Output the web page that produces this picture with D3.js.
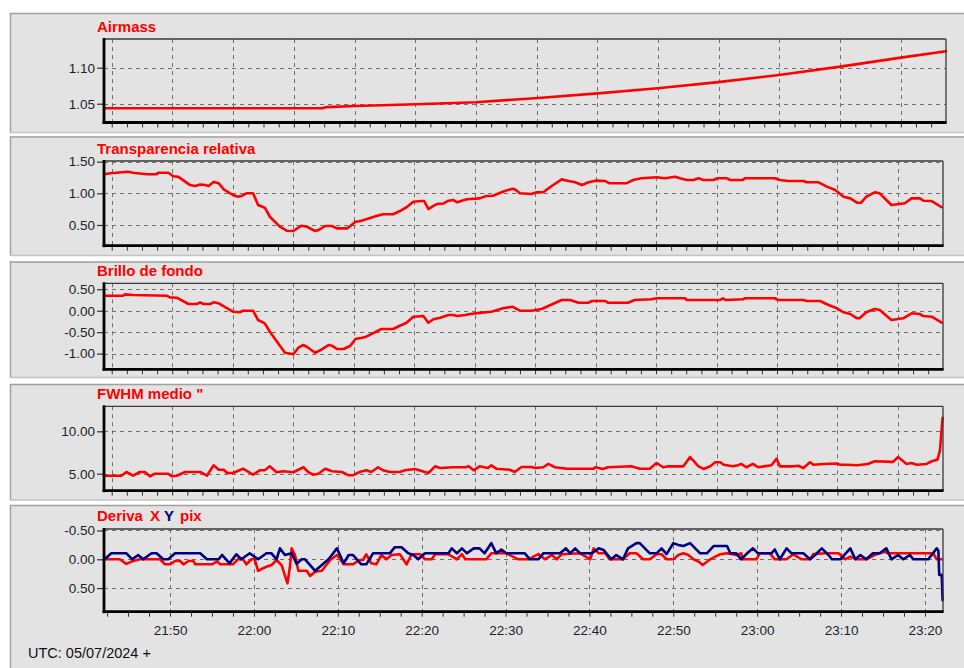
<!DOCTYPE html>
<html>
<head>
<meta charset="utf-8">
<script src="https://cdn.jsdelivr.net/npm/d3@7"></script>
<style>
  html, body { margin: 0; padding: 0; background: #ffffff; }
  svg { display: block; font-family: "Liberation Sans", Arial, sans-serif; }
</style>
</head>
<body>
<svg id="chart" width="964" height="668"></svg>
<script>
// Time is expressed in minutes after 21:00 UTC.
const timeStart = 42.13;
const timeEnd = 142.15;

// Airmass
const airmass = [[42.13,1.0436],[68.0,1.0436],[68.5,1.0452],[72.0,1.0468],[79.2,1.0492],[86.3,1.052],
  [93.7,1.058],[100.8,1.0644],[107.9,1.0714],[115.1,1.080],[122.3,1.0899],[129.6,1.1015],
  [136.8,1.114],[142.15,1.123]];

// Transparencia relativa
const transparencia = [[42.13,1.30],[42.9,1.316],[45.0,1.34],[45.6,1.325],[47.2,1.30],[48.4,1.30],
  [48.6,1.325],[49.8,1.325],[50.4,1.27],[51.0,1.26],[52.4,1.13],[53.0,1.115],[53.6,1.14],[54.2,1.13],
  [54.6,1.115],[55.2,1.18],[55.8,1.16],[56.4,1.063],[57.5,0.973],[58.1,0.946],[58.5,0.957],[59.1,1.00],
  [59.9,1.00],[60.5,0.815],[61.3,0.773],[61.9,0.63],[63.1,0.473],[63.9,0.41],[64.7,0.405],[65.3,0.457],
  [65.7,0.488],[66.3,0.473],[67.3,0.405],[67.7,0.42],[68.5,0.484],[69.3,0.484],[69.9,0.447],[71.1,0.447],
  [71.5,0.484],[72.1,0.55],[72.6,0.56],[73.4,0.59],[74.6,0.64],[75.4,0.67],[76.6,0.67],[77.4,0.72],
  [78.2,0.78],[79.0,0.867],[80.0,0.878],[80.3,0.878],[80.8,0.752],[81.4,0.80],[81.8,0.83],[82.6,0.84],
  [83.2,0.883],[83.8,0.894],[84.2,0.858],[84.8,0.883],[85.4,0.905],[86.9,0.92],[87.7,0.957],[88.5,0.962],
  [89.9,1.036],[90.8,1.07],[91.1,1.063],[91.7,1.00],[93.1,0.99],[93.7,1.016],[94.5,1.016],[95.5,1.115],
  [96.7,1.22],[97.5,1.194],[98.3,1.174],[99.1,1.13],[99.9,1.174],[100.7,1.20],[101.9,1.194],[102.4,1.158],
  [104.4,1.158],[105.2,1.21],[106.2,1.237],[108.0,1.253],[109.0,1.237],[110.2,1.262],[110.8,1.237],
  [111.6,1.21],[112.4,1.21],[113.0,1.237],[113.6,1.21],[114.8,1.21],[115.2,1.237],[116.4,1.237],
  [116.8,1.21],[118.3,1.21],[118.5,1.237],[122.1,1.237],[122.7,1.21],[123.7,1.194],[125.5,1.194],
  [125.9,1.174],[127.3,1.174],[128.3,1.105],[129.3,1.052],[130.3,0.946],[131.1,0.92],[131.9,0.852],
  [132.4,0.852],[133.0,0.946],[134.0,1.016],[134.6,1.00],[136.0,0.815],[137.6,0.842],[138.4,0.92],
  [139.4,0.92],[139.8,0.883],[140.8,0.878],[142.0,0.78]];

// Brillo de fondo
const brillo = [[42.13,0.35],[44.4,0.35],[44.6,0.38],[45.6,0.366],[49.6,0.35],[50.0,0.31],[50.8,0.303],
  [52.2,0.156],[53.2,0.156],[53.6,0.195],[54.0,0.156],[54.8,0.156],[55.2,0.195],[55.8,0.172],[57.5,-0.023],
  [58.3,-0.037],[58.7,0],[59.9,0],[60.5,-0.217],[61.3,-0.294],[61.9,-0.49],[63.7,-0.98],[64.7,-1.016],
  [65.3,-0.862],[65.9,-0.80],[66.3,-0.84],[67.3,-0.98],[68.1,-0.90],[68.9,-0.80],[69.3,-0.816],[69.9,-0.893],
  [70.7,-0.893],[71.5,-0.816],[72.1,-0.66],[72.9,-0.63],[73.4,-0.606],[75.2,-0.427],[76.6,-0.427],
  [77.4,-0.35],[78.2,-0.28],[79.0,-0.14],[80.2,-0.124],[80.8,-0.28],[81.4,-0.20],[82.2,-0.163],[83.2,-0.10],
  [83.8,-0.10],[84.2,-0.124],[85.2,-0.10],[85.8,-0.077],[86.9,-0.05],[88.3,-0.023],[89.7,0.056],[90.8,0.093],
  [91.7,0],[93.1,0],[94.3,0.04],[96.7,0.25],[97.7,0.25],[98.7,0.187],[99.9,0.187],[100.3,0.226],[101.9,0.226],
  [102.2,0.187],[104.6,0.187],[105.4,0.25],[107.4,0.266],[108.0,0.29],[111.4,0.29],[111.6,0.25],[115.6,0.25],
  [115.9,0.29],[116.2,0.25],[118.3,0.266],[118.5,0.29],[122.1,0.29],[122.5,0.25],[125.5,0.25],[125.9,0.226],
  [127.5,0.226],[128.5,0.133],[129.5,0.056],[130.3,-0.037],[131.1,-0.077],[131.9,-0.177],[132.2,-0.177],
  [133.0,-0.037],[134.0,0.04],[134.6,0.016],[136.0,-0.217],[137.4,-0.177],[138.4,-0.06],[139.4,-0.077],
  [139.8,-0.124],[140.8,-0.14],[142.0,-0.28]];

// FWHM medio (arcsec)
const fwhm = [[42.13,4.76],[44.2,4.76],[44.8,5.2],[45.6,4.76],[46.4,5.2],[47.0,5.2],[47.6,4.69],[48.2,5.0],
  [49.8,5.0],[50.2,4.69],[50.8,4.76],[51.8,5.2],[53.6,5.2],[54.4,4.76],[55.2,5.99],[55.8,5.47],[56.4,5.47],
  [56.8,5.08],[57.5,5.08],[58.7,5.59],[59.9,4.88],[60.7,5.4],[61.3,5.4],[61.9,5.87],[62.7,5.17],[63.5,5.28],
  [64.7,5.17],[65.9,5.76],[66.5,5.17],[67.1,4.88],[67.7,5.0],[68.5,5.59],[69.3,5.28],[70.5,5.2],[71.3,4.81],
  [71.8,4.81],[72.6,5.2],[73.4,5.4],[74.0,5.2],[74.8,5.76],[75.4,5.4],[76.2,5.2],[77.4,5.2],[78.0,5.4],
  [79.2,5.56],[80.8,5.08],[81.6,5.87],[82.2,5.67],[83.8,5.76],[85.2,5.76],[85.6,5.87],[86.2,5.4],[86.9,5.87],
  [87.9,5.67],[88.3,5.99],[88.9,5.59],[90.5,5.47],[91.1,5.2],[91.9,5.79],[93.1,5.79],[93.5,5.67],[94.5,5.76],
  [95.1,6.15],[95.9,5.76],[97.3,5.59],[100.5,5.59],[100.7,5.76],[101.6,5.56],[102.2,5.76],[105.0,5.87],
  [106.0,5.59],[107.2,5.59],[108.0,6.26],[108.8,5.76],[109.4,5.87],[111.2,5.87],[112.0,6.97],[113.0,5.87],
  [113.6,5.56],[114.4,5.87],[115.0,6.35],[115.6,6.35],[116.0,6.06],[117.1,5.87],[117.7,5.99],[118.1,6.15],
  [118.7,5.76],[119.5,6.15],[120.1,5.76],[121.7,5.99],[122.3,6.77],[122.7,5.87],[124.3,5.87],[124.9,5.94],
  [125.5,5.67],[126.3,6.35],[126.7,6.06],[127.9,6.15],[129.5,6.2],[129.9,6.06],[130.7,6.06],[131.9,5.99],
  [133.2,6.15],[134.0,6.47],[136.2,6.4],[136.8,6.97],[137.8,6.15],[138.4,6.26],[139.0,6.06],[140.2,6.15],
  [140.8,6.47],[141.5,6.66],[141.8,7.84],[142.0,10.4],[142.1,11.58]];

// Deriva X (pix)
const derivaX = [[42.2,0],[44.0,0],[44.8,0.08],[45.4,0.04],[46.4,0],[48.8,0],[49.4,0.087],[50.0,0.087],
  [50.6,0.03],[51.2,0.03],[51.6,0.087],[52.2,0.03],[52.8,0.03],[53.0,0.087],[55.0,0.087],[55.6,0.04],
  [56.0,0.087],[57.5,0.087],[58.1,0],[58.7,0],[59.1,0.087],[59.7,0],[60.1,0],[60.5,0.2],[61.1,0.156],
  [61.5,0.13],[62.1,0.1],[62.7,0.012],[63.3,0.1],[64.0,0.417],[64.3,0.128],[64.5,-0.19],[64.9,-0.075],
  [65.3,0.2],[66.3,0.2],[66.7,0.29],[67.3,0.215],[68.1,0.2],[69.1,0.012],[69.9,-0.075],[70.7,0.087],
  [71.8,0.087],[72.6,0.012],[73.0,0.012],[73.4,-0.087],[74.0,0.07],[74.6,0.087],[75.2,-0.075],[75.8,0],
  [76.4,-0.075],[77.4,-0.087],[78.2,0.087],[78.8,-0.087],[79.8,-0.087],[80.4,0],[81.2,0],[81.6,-0.087],
  [83.2,-0.087],[84.2,0],[84.8,-0.09],[85.2,0],[87.7,0],[88.3,-0.104],[90.1,-0.104],[91.5,0],[92.7,0],
  [93.9,-0.09],[94.7,0],[95.5,-0.075],[96.1,0],[96.7,-0.087],[98.9,-0.104],[100.1,0],[100.5,-0.19],
  [101.1,-0.104],[101.9,-0.104],[102.4,0],[104.0,0],[104.8,-0.104],[105.6,-0.104],[106.4,0],[107.2,0],
  [108.0,-0.087],[108.6,-0.087],[109.2,0],[110.0,0],[110.6,-0.075],[111.2,-0.104],[111.8,-0.075],[112.4,0],
  [113.0,0.04],[113.5,0.1],[114.4,0],[115.0,-0.045],[115.6,-0.087],[116.4,-0.104],[117.5,-0.075],
  [118.1,-0.104],[118.3,0],[119.9,0],[120.3,-0.104],[121.5,-0.104],[122.1,0],[123.5,0],[124.3,-0.087],
  [125.3,0],[126.3,0],[126.7,-0.09],[128.1,-0.104],[129.7,-0.104],[130.5,0],[131.1,-0.045],[131.9,0],
  [133.0,0],[134.0,-0.075],[134.6,-0.104],[135.2,-0.13],[135.6,-0.104],[141.0,-0.104],[141.4,0],[142.0,0]];

// Deriva Y (pix)
const derivaY = [[42.2,0],[43.0,-0.104],[44.8,-0.104],[45.5,0],[46.2,-0.075],[46.8,0],[47.8,-0.104],
  [48.4,-0.104],[49.2,0],[49.8,0],[50.6,-0.104],[53.6,-0.104],[54.4,0],[55.8,0],[56.2,-0.075],[57.1,0.07],
  [57.9,-0.087],[58.5,0],[59.5,-0.104],[60.5,0],[61.5,-0.104],[62.1,-0.104],[62.7,0],[63.1,-0.19],
  [63.7,-0.075],[64.5,-0.104],[65.1,0.08],[65.7,0],[66.1,0],[66.7,0.1],[67.3,0.2],[68.9,0],[69.9,-0.19],
  [70.7,0.07],[71.3,-0.075],[71.8,-0.075],[72.8,0.087],[73.4,0.087],[74.2,-0.104],[76.2,-0.104],
  [76.8,-0.21],[77.6,-0.21],[78.4,-0.104],[79.0,-0.075],[79.6,0],[80.4,-0.104],[83.2,-0.104],[83.6,-0.19],
  [84.2,-0.104],[84.8,-0.19],[85.4,-0.104],[86.2,-0.19],[86.9,-0.19],[87.5,-0.104],[88.3,-0.28],
  [88.9,-0.104],[89.5,-0.17],[90.1,-0.104],[92.3,-0.104],[92.9,0],[93.9,0],[94.5,-0.104],[96.5,-0.104],
  [97.2,-0.19],[97.7,-0.104],[98.3,-0.19],[98.9,-0.104],[100.3,-0.104],[101.1,-0.19],[101.7,-0.16],
  [102.6,0],[103.2,-0.075],[104.0,0],[104.6,-0.19],[105.6,-0.28],[106.0,-0.28],[107.2,-0.104],
  [108.0,-0.104],[108.6,-0.19],[109.2,-0.09],[110.0,-0.28],[110.6,-0.25],[111.2,-0.23],[112.0,-0.28],
  [113.2,-0.104],[114.0,-0.104],[114.8,-0.23],[116.4,-0.23],[116.8,-0.104],[117.5,-0.104],[118.1,0],
  [118.7,-0.09],[119.5,-0.19],[120.1,-0.104],[121.7,-0.104],[122.1,-0.17],[122.7,0],[123.5,-0.19],
  [124.1,-0.104],[125.5,-0.104],[126.3,0],[126.9,-0.075],[127.7,-0.19],[128.5,-0.075],[128.9,0],[129.9,0],
  [131.1,-0.19],[131.7,0],[132.3,-0.075],[133.0,0],[133.8,-0.104],[134.6,-0.104],[135.4,-0.19],[136.0,0],
  [136.8,-0.075],[137.4,0],[138.2,-0.075],[138.6,0],[140.4,0],[141.4,-0.19],[141.6,-0.15],[141.7,0.27],
  [142.0,0.27],[142.1,0.71]];

// Time axis of the bottom panel
const timeTickMinutes = [50, 60, 70, 80, 90, 100, 110, 120, 130, 140];
const timeTickLabels = ["21:50", "22:00", "22:10", "22:20", "22:30", "22:40", "22:50", "23:00", "23:10", "23:20"];

const RED = "#ff0000";
const NAVY = "#000080";
const INK = "#1e1e2a";

const svg = d3.select("#chart");
const fmt = v => v.toFixed(2);

// Vertical grid of the upper panels: evenly spaced divisions, four sub-ticks each.
const upperGridStep = 7.21;
const upperGrid = d3.range(14).map(k => 43.05 + upperGridStep * k);
const upperMinor = d3.range(56).map(k => 43.05 + upperGridStep / 4 * k).filter(t => t <= timeEnd);
const lowerMinor = d3.range(41).map(k => 42.5 + 2.5 * k).filter(t => t <= timeEnd);

const panels = [
  { title: "Airmass", box: [13, 133], plot: { x0: 104, x1: 946, y0: 39, y1: 122.5 }, titleY: 32,
    yDomain: [1.0239, 1.1399], yTicks: [1.05, 1.10], series: [{ data: airmass, color: RED }] },
  { title: "Transparencia relativa", box: [136.5, 256], plot: { x0: 104, x1: 943, y0: 161, y1: 245.7 }, titleY: 153.5,
    yDomain: [0.173, 1.51], yTicks: [0.5, 1.0, 1.5], series: [{ data: transparencia, color: RED }] },
  { title: "Brillo de fondo", box: [261.5, 378], plot: { x0: 104, x1: 943, y0: 283.3, y1: 369.3 }, titleY: 276,
    yDomain: [-1.366, 0.639], yTicks: [0.5, 0, -0.5, -1.0], series: [{ data: brillo, color: RED }] },
  { title: "FWHM medio \"", box: [384, 500.5], plot: { x0: 104, x1: 943, y0: 406.3, y1: 490.7 }, titleY: 399,
    yDomain: [2.995, 12.95], yTicks: [5, 10], series: [{ data: fwhm, color: RED }] },
  { title: null, box: [505, 690], plot: { x0: 104, x1: 943, y0: 529, y1: 611.7 }, titleY: 521,
    yDomain: [0.91, -0.526], yTicks: [-0.5, 0, 0.5], bottom: true,
    series: [{ data: derivaX, color: RED }, { data: derivaY, color: NAVY }] }
];

panels.forEach(p => {
  const g = svg.append("g");
  const [by0, by1] = p.box;

  // sunken panel frame
  g.append("rect").attr("x", 10).attr("y", by0).attr("width", 970).attr("height", by1 - by0)
    .attr("fill", "#e3e3e3");
  g.append("line").attr("x1", 10).attr("x2", 980).attr("y1", by0 + 0.5).attr("y2", by0 + 0.5)
    .attr("stroke", "#a0a0a0").attr("stroke-width", 1.5);
  g.append("line").attr("x1", 10.5).attr("x2", 10.5).attr("y1", by0).attr("y2", by1)
    .attr("stroke", "#a0a0a0").attr("stroke-width", 1.5);
  g.append("line").attr("x1", 10).attr("x2", 980).attr("y1", by1 - 0.5).attr("y2", by1 - 0.5)
    .attr("stroke", "#c4c4c4").attr("stroke-width", 1.5);

  const { x0, x1, y0, y1 } = p.plot;
  const x = d3.scaleLinear().domain([timeStart, timeEnd]).range([x0, x1]);
  const y = d3.scaleLinear().domain(p.yDomain).range([y1, y0]);

  // dashed grid
  const vGrid = p.bottom ? timeTickMinutes : upperGrid;
  g.append("g").selectAll("line.v").data(vGrid).join("line")
    .attr("x1", d => Math.round(x(d)) + 0.5).attr("x2", d => Math.round(x(d)) + 0.5)
    .attr("y1", y0).attr("y2", y1)
    .attr("stroke", "#707070").attr("stroke-width", 1).attr("stroke-dasharray", "4,4");
  g.append("g").selectAll("line.h").data(p.yTicks).join("line")
    .attr("x1", x0).attr("x2", x1)
    .attr("y1", d => Math.round(y(d)) + 0.5).attr("y2", d => Math.round(y(d)) + 0.5)
    .attr("stroke", "#707070").attr("stroke-width", 1).attr("stroke-dasharray", "4,4");

  // series
  const line = d3.line().x(d => x(d[0])).y(d => y(d[1]));
  p.series.forEach(s => {
    g.append("path").datum(s.data).attr("d", line)
      .attr("fill", "none").attr("stroke", s.color).attr("stroke-width", 2.6)
      .attr("stroke-linejoin", "round").attr("stroke-linecap", "round");
  });

  // plot frame: thin top/right, heavy left/bottom
  g.append("line").attr("x1", x0).attr("x2", x1).attr("y1", y0).attr("y2", y0)
    .attr("stroke", "#3a3a3a").attr("stroke-width", 1.3);
  g.append("line").attr("x1", x1).attr("x2", x1).attr("y1", y0).attr("y2", y1)
    .attr("stroke", "#3a3a3a").attr("stroke-width", 1.3);

  // y axis
  const yAxis = d3.axisLeft(y).tickValues(p.yTicks).tickFormat(fmt).tickSize(7).tickPadding(2);
  const ya = g.append("g").attr("transform", `translate(${x0},0)`).call(yAxis);
  ya.select(".domain").remove();
  ya.selectAll(".tick line").attr("stroke", "#303040").attr("stroke-width", 1.2);
  ya.selectAll(".tick text").attr("fill", INK).style("font-size", "13.5px")
    .style("font-family", "'Liberation Sans', Arial, sans-serif");

  // x axis ticks
  const minor = p.bottom ? lowerMinor : upperMinor;
  const xa = g.append("g").attr("transform", `translate(0,${y1})`)
    .call(d3.axisBottom(x).tickValues(minor).tickSize(5).tickFormat(""));
  xa.select(".domain").remove();
  xa.selectAll(".tick line").attr("stroke", "#303040").attr("stroke-width", 1);

  if (p.bottom) {
    const lab = g.append("g").attr("transform", `translate(0,${y1})`)
      .call(d3.axisBottom(x).tickValues(timeTickMinutes).tickSize(0).tickPadding(14)
        .tickFormat((d, i) => timeTickLabels[i]));
    lab.select(".domain").remove();
    lab.selectAll(".tick text").attr("fill", INK).style("font-size", "13.5px")
      .style("font-family", "'Liberation Sans', Arial, sans-serif");
  }

  g.append("line").attr("x1", x0).attr("x2", x0).attr("y1", y0 - 1).attr("y2", y1 + 1.5)
    .attr("stroke", "#000").attr("stroke-width", 2.8);
  g.append("line").attr("x1", x0 - 1.4).attr("x2", x1 + 0.6).attr("y1", y1).attr("y2", y1)
    .attr("stroke", "#000").attr("stroke-width", 2.8);

  // title
  if (p.title) {
    g.append("text").attr("x", 97).attr("y", p.titleY).text(p.title)
      .attr("fill", RED).style("font-weight", "bold").style("font-size", "15px");
  } else {
    const t = g.append("text").attr("x", 97).attr("y", p.titleY)
      .style("font-weight", "bold").style("font-size", "15px");
    t.append("tspan").attr("fill", RED).text("Deriva");
    t.append("tspan").attr("x", 150).attr("fill", RED).text("X");
    t.append("tspan").attr("x", 164).attr("fill", NAVY).text("Y");
    t.append("tspan").attr("x", 180).attr("fill", RED).text("pix");
  }
});

svg.append("text").attr("x", 28).attr("y", 658).text("UTC: 05/07/2024 +")
  .attr("fill", "#111").style("font-size", "14.5px");
</script>
</body>
</html>
